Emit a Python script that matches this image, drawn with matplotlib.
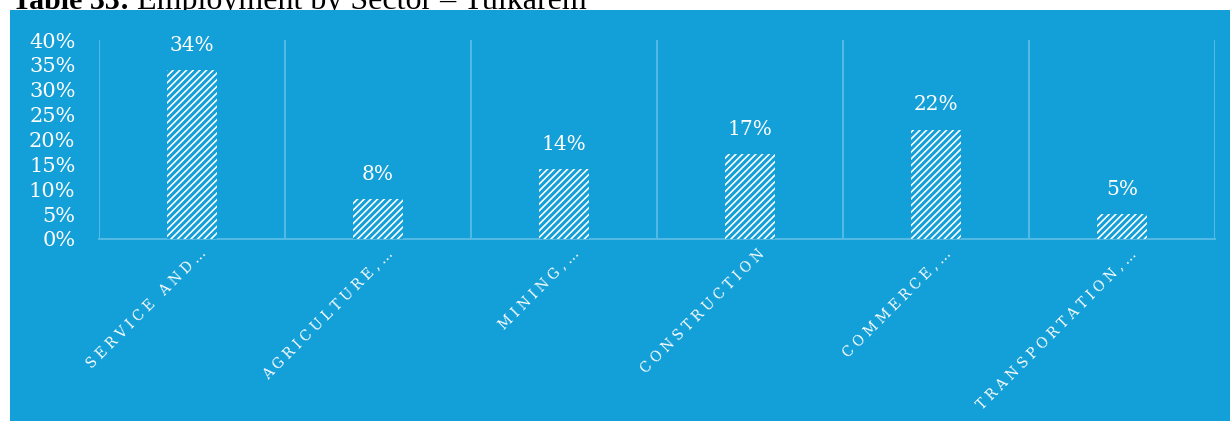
import matplotlib
matplotlib.use("Agg")
import matplotlib.pyplot as plt
from matplotlib.patches import Rectangle
from matplotlib.ticker import FuncFormatter

# employment share by sector
sectors = ["SERVICE AND…", "AGRICULTURE,…", "MINING,…",
           "CONSTRUCTION", "COMMERCE,…", "TRANSPORTATION,…"]
shares = [34, 8, 14, 17, 22, 5]
y_ticks = [0, 5, 10, 15, 20, 25, 30, 35, 40]

BLUE = "#139fd7"
GRID = "#52b8e4"
W, H = 1230, 421

plt.rcParams["hatch.linewidth"] = 2.2

fig = plt.figure(figsize=(W / 100, H / 100), dpi=100)
fig.patch.set_facecolor("white")

# caption sitting above the panel, cut by the top edge
fig.text(12 / W, 1 - 9 / H, "Table 33:", fontfamily="Liberation Serif",
         fontweight="bold", fontsize=21.5, color="black", va="baseline",
         zorder=1)
fig.text(137 / W, 1 - 9 / H, "Employment by Sector – Tulkarem",
         fontfamily="Liberation Serif", fontsize=23, color="black",
         va="baseline", zorder=1)

# blue background panel
fig.patches.append(Rectangle((10 / W, 0), 1 - 10 / W, 1 - 10 / H,
                             transform=fig.transFigure, facecolor=BLUE,
                             edgecolor="none", zorder=2))

ax = fig.add_axes([99 / W, 1 - 239 / H, (1215 - 99) / W, (239 - 40) / H])
ax.set_zorder(3)
ax.patch.set_alpha(0)

x = range(len(sectors))
bars = ax.bar(x, shares, width=0.27, color="white", edgecolor=BLUE,
              linewidth=0, hatch="/////", zorder=3)

for xi, v in zip(x, shares):
    ax.annotate(f"{v}%", xy=(xi, v), xytext=(0, 11), textcoords="offset points",
                ha="center", va="bottom", color="white", fontsize=14.5,
                fontfamily="DejaVu Serif")

ax.set_xlim(-0.5, len(sectors) - 0.5)
ax.set_ylim(0, 40)
ax.set_yticks(y_ticks)
ax.yaxis.set_major_formatter(FuncFormatter(lambda v, p: f"{v:.0f}%"))
ax.tick_params(axis="y", length=0, pad=17, labelcolor="white", labelsize=15)
for lbl in ax.get_yticklabels():
    lbl.set_fontfamily("DejaVu Serif")

# separators between categories
ax.set_xticks([])
ax.set_xticks([i - 0.5 for i in range(len(sectors) + 1)], minor=True)
ax.tick_params(axis="x", which="both", length=0)
ax.grid(True, which="minor", axis="x", color=GRID, linewidth=1.5, zorder=1)

for side in ["top", "left", "right"]:
    ax.spines[side].set_visible(False)
ax.spines["bottom"].set_color(GRID)
ax.spines["bottom"].set_linewidth(1.5)

# spaced-out category names below the axis
for xi, name in zip(x, sectors):
    ax.annotate("\u2009\u200a".join(name), xy=(xi, 0), xytext=(9, -9),
                textcoords="offset points", rotation=45, ha="right",
                va="center", rotation_mode="anchor", color="white",
                fontsize=10, fontfamily="DejaVu Serif", annotation_clip=False)

fig.savefig("out.png", dpi=100)
